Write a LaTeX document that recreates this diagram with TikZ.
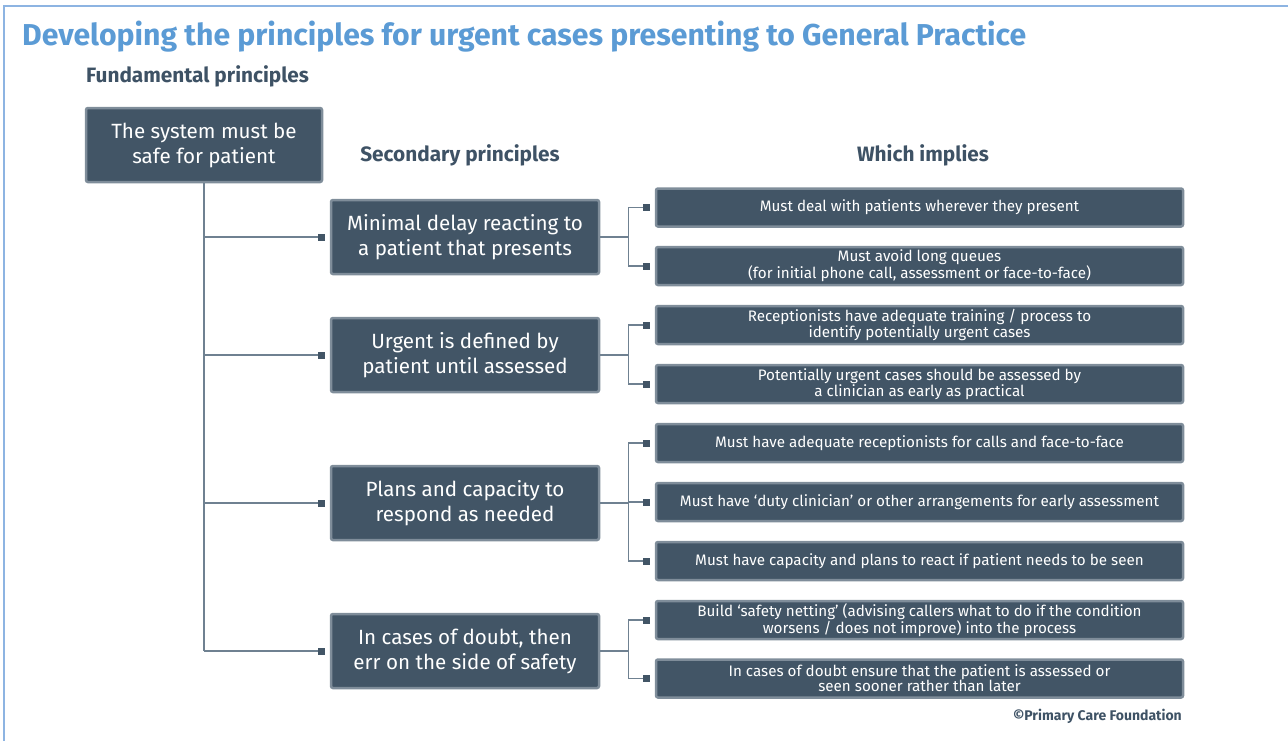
\documentclass[tikz,border=0pt]{standalone}
\usepackage{fontspec}
\setmainfont{Fira Sans}
\usetikzlibrary{arrows.meta}
\definecolor{boxfill}{HTML}{425566}
\definecolor{boxedge}{HTML}{7F8D9A}
\definecolor{headtxt}{HTML}{3E5265}
\definecolor{titleblue}{HTML}{5B9BD5}
\definecolor{framebl}{HTML}{8DB4E2}
\definecolor{linec}{HTML}{6F8191}
\tikzset{
  fundbox/.style={draw=boxedge, fill=boxfill, line width=2.5pt, rounded corners=2pt, text=white,
     minimum width=236pt, minimum height=74pt, align=center, font=\fontsize{20.6}{25}\selectfont, inner sep=0pt},
  secbox/.style={draw=boxedge, fill=boxfill, line width=2.5pt, rounded corners=2pt, text=white,
     minimum width=268pt, minimum height=74pt, align=center, font=\fontsize{20.6}{25}\selectfont, inner sep=0pt},
  impbox/.style={draw=boxedge, fill=boxfill, line width=2.5pt, rounded corners=2pt, text=white,
     minimum width=527pt, minimum height=38pt, align=center, font=\fontsize{15.2}{14.8}\selectfont, inner sep=0pt},
  head/.style={text=headtxt, font=\bfseries\fontsize{20.8}{22}\selectfont, inner sep=0pt},
  conn/.style={draw=linec, line width=1.4pt},
  sqconn/.style={conn, -{Square[length=7pt,width=7pt,fill=boxfill,color=boxfill]}, shorten >=5pt},
}
\begin{document}
\begin{tikzpicture}[x=1pt,y=-1pt]
\useasboundingbox (0,0) rectangle (1288,740);
\draw[framebl, line width=2pt] (4,745) -- (4,6) -- (1295,6);
\node[anchor=base west, text=titleblue, font=\bfseries\fontsize{30.2}{32}\selectfont, inner sep=0pt] (title) at (22,45)
  {Developing the principles for urgent cases presenting to General Practice};
\node[head, anchor=west] (fundhead) at (86,76) {Fundamental principles};
\node[head] (sechead) at (460,155) {Secondary principles};
\node[head] (imphead) at (923,155) {Which implies};

\node[fundbox] (fund) at (204,145) {The system must be\\safe for patient};

\node[secbox] (sec1) at (465,237) {Minimal delay reacting to\\a patient that presents};
\node[secbox] (sec2) at (465,355) {Urgent is defined by\\patient until assessed};
\node[secbox] (sec3) at (465,503) {Plans and capacity to\\respond as needed};
\node[secbox] (sec4) at (465,651) {In cases of doubt, then\\err on the side of safety};

\node[impbox] (imp1) at (919.5,207.5) {Must deal with patients wherever they present};
\node[impbox] (imp2) at (919.5,266) {Must avoid long queues\\(for initial phone call, assessment or face-to-face)};
\node[impbox] (imp3) at (919.5,325) {Receptionists have adequate training / process to\\identify potentially urgent cases};
\node[impbox] (imp4) at (919.5,384) {Potentially urgent cases should be assessed by\\a clinician as early as practical};
\node[impbox] (imp5) at (919.5,443) {Must have adequate receptionists for calls and face-to-face};
\node[impbox] (imp6) at (919.5,502) {Must have `duty clinician' or other arrangements for early assessment};
\node[impbox] (imp7) at (919.5,561) {Must have capacity and plans to react if patient needs to be seen};
\node[impbox] (imp8) at (919.5,620) {Build `safety netting' (advising callers what to do if the condition\\worsens / does not improve) into the process};
\node[impbox] (imp9) at (919.5,678.5) {In cases of doubt ensure that the patient is assessed or\\seen sooner rather than later};

\node[anchor=base east, text=headtxt, font=\bfseries\fontsize{14}{15}\selectfont, inner sep=0pt] (copy) at (1182,720) {©Primary Care Foundation};

% trunk
\draw[conn] (fund.south) -- (fund.south |- sec4.west) coordinate (tend);
\foreach \s in {sec1,sec2,sec3,sec4}{
  \draw[sqconn] (fund.south |- \s.west) -- (\s.west);
}
% fans
\draw[conn] (sec1.east) -- ++(28,0) coordinate (f1);
\draw[sqconn] (f1) |- (imp1.west);
\draw[sqconn] (f1) |- (imp2.west);
\draw[conn] (sec2.east) -- ++(28,0) coordinate (f2);
\draw[sqconn] (f2) |- (imp3.west);
\draw[sqconn] (f2) |- (imp4.west);
\draw[conn] (sec3.east) -- ++(28,0) coordinate (f3);
\draw[sqconn] (f3) |- (imp5.west);
\draw[sqconn] (f3 |- imp6.west) -- (imp6.west);
\draw[sqconn] (f3) |- (imp7.west);
\draw[conn] (sec4.east) -- ++(28,0) coordinate (f4);
\draw[sqconn] (f4) |- (imp8.west);
\draw[sqconn] (f4) |- (imp9.west);
\end{tikzpicture}
\end{document}
